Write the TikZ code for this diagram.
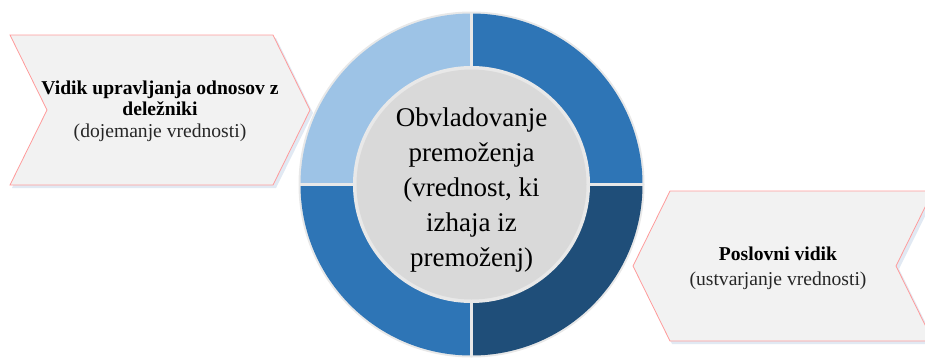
\documentclass[tikz,border=0pt]{standalone}
\usepackage{fontspec}
\setmainfont{Liberation Serif}
\definecolor{chevfill}{HTML}{F2F2F2}
\definecolor{chevline}{HTML}{FF9B9B}
\definecolor{chevshadow}{HTML}{E1E9F3}
\definecolor{lightblue}{HTML}{9DC3E6}
\definecolor{midblue}{HTML}{2E75B6}
\definecolor{darkblue}{HTML}{1F4E79}
\definecolor{hubgray}{HTML}{D9D9D9}
\definecolor{rimgray}{HTML}{E8E8E8}
\begin{document}
\begin{tikzpicture}[x=1pt,y=-1pt,
  chev/.style={fill=chevfill,draw=chevline,line width=0.8pt},
  chevsh/.style={fill=chevshadow},
  sidetext/.style={align=center,inner sep=0pt,text=black!85},
  hubtext/.style={align=center,inner sep=0pt,text=black,font=\fontsize{27}{35}\selectfont}]
\useasboundingbox (0,0) rectangle (925,359);
\clip (0,0) rectangle (925,359);
% left chevron
\fill[chevsh] (12,38) -- (276,38) -- (313,113) -- (276,188) -- (12,188) -- (49,113) -- cycle;
\draw[chev] (10,35) -- (273,35) -- (310,110) -- (273,185) -- (10,185) -- (47,110) -- cycle;
% right chevron
\fill[chevsh] (672,194) -- (936,194) -- (899,269) -- (936,344) -- (672,344) -- (635,269) -- cycle;
\draw[chev] (670,191) -- (933,191) -- (896,266) -- (933,341) -- (670,341) -- (633,266) -- cycle;
% ring
\begin{scope}[shift={(471.5,184.5)}]
  \fill[rimgray] (0,0) circle (173);
  \fill[lightblue] (180:171) arc[start angle=180,end angle=270,radius=171] -- (270:117) arc[start angle=270,end angle=180,radius=117] -- cycle;
  \fill[midblue] (270:171) arc[start angle=270,end angle=360,radius=171] -- (0:117) arc[start angle=360,end angle=270,radius=117] -- cycle;
  \fill[darkblue] (0:171) arc[start angle=0,end angle=90,radius=171] -- (90:117) arc[start angle=90,end angle=0,radius=117] -- cycle;
  \fill[midblue] (90:171) arc[start angle=90,end angle=180,radius=171] -- (180:117) arc[start angle=180,end angle=90,radius=117] -- cycle;
  \draw[rimgray,line width=3pt] (-172,0) -- (172,0);
  \draw[rimgray,line width=3pt] (0,-172) -- (0,172);
  \fill[rimgray] (0,0) circle (118.5);
  \fill[hubgray] (0,0) circle (115);
\end{scope}
% texts
\node[sidetext,font=\fontsize{19.6}{21.5}\selectfont] (lefttext) at (160,111) {\textbf{\textcolor{black}{Vidik upravljanja odnosov z}}\\\textbf{\textcolor{black}{deležniki}}\\(dojemanje vrednosti)};
\node[sidetext,font=\fontsize{19.6}{25}\selectfont] (righttext) at (778,268) {\textbf{\textcolor{black}{Poslovni vidik}}\\(ustvarjanje vrednosti)};
\node[hubtext] (hub) at (471.5,190) {Obvladovanje\\premoženja\\(vrednost, ki\\izhaja iz\\premoženj)};
\end{tikzpicture}
\end{document}
